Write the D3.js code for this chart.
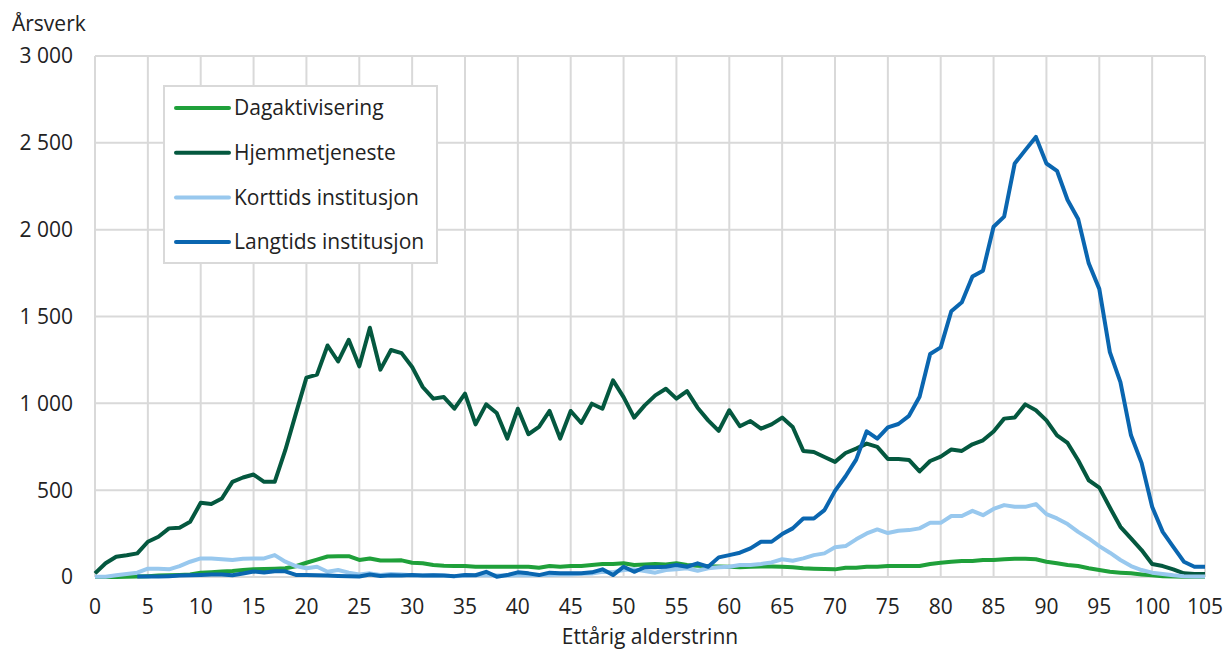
<!DOCTYPE html>
<html>
<head>
<meta charset="utf-8">
<script src="https://cdn.jsdelivr.net/npm/d3@7"></script>
<style>
  body { margin: 0; background: #fff; }
  text { font-family: "Open Sans", sans-serif; fill: #222; }
</style>
</head>
<body>
<div id="chart"></div>
<script>
// ages 0..105
const ages = d3.range(0, 106);
const seriesNames = ["Dagaktivisering", "Hjemmetjeneste", "Korttids institusjon", "Langtids institusjon"];
const seriesColors = ["#1fa03a", "#04583f", "#98c8ee", "#0a66b0"];

const dagaktivisering = [0,0,0,2,3,5,8,10,12,15,25,28,32,35,40,44,46,48,50,62,82,100,118,120,120,98,107,95,95,96,
  82,79,69,65,63,63,59,59,59,59,59,59,53,63,59,63,63,69,75,75,79,69,72,75,72,79,69,65,62,60,
  59,56,59,60,60,59,56,50,48,46,44,53,53,59,59,63,63,63,63,75,82,88,92,92,98,98,102,105,105,102,
  88,79,69,63,50,40,30,25,21,15,10,5,3,2,2,2];

const hjemmetjeneste = [21,79,117,125,136,203,232,280,284,318,427,420,452,548,573,590,548,548,730,941,1148,1165,1333,1241,1366,1213,1435,1194,1307,1289,
  1209,1094,1027,1036,969,1056,879,994,944,797,969,822,864,956,797,956,887,998,969,1132,1036,918,988,1046,1084,1027,1070,975,902,841,
  960,868,898,854,879,918,864,726,720,691,663,714,739,768,749,680,680,674,608,668,693,734,726,764,787,838,912,918,994,960,
  902,816,772,672,557,515,400,289,222,155,75,63,44,21,17,17];

const korttids = [2,2,10,17,25,48,48,44,63,88,107,107,102,98,105,107,107,126,88,63,50,59,30,40,25,15,21,11,17,14,
  10,8,10,8,5,8,10,12,8,8,10,10,12,12,15,15,18,20,30,28,40,45,35,25,40,45,50,36,50,56,
  59,69,69,75,84,102,94,107,126,136,171,178,217,251,274,253,266,270,280,312,312,351,351,381,356,392,414,404,404,420,
  362,337,305,260,222,178,140,98,63,40,25,17,10,5,3,3];

const langtids = [null,null,null,null,3,3,3,5,8,10,12,14,15,10,20,32,26,33,33,12,11,10,8,6,5,3,14,6,10,8,
  11,8,10,8,5,11,10,30,2,11,27,21,11,25,21,21,22,27,44,11,59,30,56,56,59,69,59,79,59,113,
  126,140,165,203,203,247,280,337,337,385,496,580,676,839,797,862,881,928,1038,1284,1322,1530,1582,1730,1764,2017,2075,2381,2458,2534,
  2381,2339,2171,2061,1806,1659,1295,1122,816,657,404,260,174,88,59,59];

const seriesValues = [dagaktivisering, hjemmetjeneste, korttids, langtids];
const xTicks = d3.range(0, 106, 5);
const yTicks = [0, 500, 1000, 1500, 2000, 2500, 3000];

const W = 1226, H = 651;
const margin = { top: 56, right: 21, bottom: 74, left: 95 };
const iw = W - margin.left - margin.right;
const ih = H - margin.top - margin.bottom;
const fs = "21px";

const svg = d3.select("#chart").append("svg")
  .attr("width", W)
  .attr("height", H);

const g = svg.append("g").attr("transform", `translate(${margin.left},${margin.top})`);

const x = d3.scaleLinear().domain([0, 105]).range([0, iw]);
const y = d3.scaleLinear().domain([0, 3000]).range([ih, 0]);

// grid
g.append("g").selectAll("line").data(xTicks).join("line")
  .attr("x1", d => x(d)).attr("x2", d => x(d))
  .attr("y1", 0).attr("y2", ih)
  .attr("stroke", "#d9d9d9").attr("stroke-width", 2);
g.append("g").selectAll("line").data(yTicks).join("line")
  .attr("x1", 0).attr("x2", iw)
  .attr("y1", d => y(d)).attr("y2", d => y(d))
  .attr("stroke", "#d9d9d9").attr("stroke-width", 2);

// tick labels
const fmt = d => d3.format(",")(d).replace(/,/g, "\u00a0");
g.append("g").selectAll("text").data(yTicks).join("text")
  .attr("x", -22).attr("y", d => y(d))
  .attr("dy", "0.35em")
  .attr("text-anchor", "end")
  .style("font-size", fs)
  .text(fmt);
g.append("g").selectAll("text").data(xTicks).join("text")
  .attr("x", d => x(d)).attr("y", ih + 30)
  .attr("dy", "0.35em")
  .attr("text-anchor", "middle")
  .style("font-size", fs)
  .text(d => d);

svg.append("text")
  .attr("x", 12).attr("y", 31)
  .style("font-size", fs)
  .text("Årsverk");

svg.append("text")
  .attr("x", margin.left + iw / 2).attr("y", 644)
  .attr("text-anchor", "middle")
  .style("font-size", fs)
  .text("Ettårig alderstrinn");

// lines
const line = d3.line()
  .defined(d => d != null)
  .x((d, i) => x(ages[i]))
  .y(d => y(d));

seriesValues.forEach((vals, i) => {
  g.append("path")
    .datum(vals)
    .attr("fill", "none")
    .attr("stroke", seriesColors[i])
    .attr("stroke-width", 4)
    .attr("stroke-linejoin", "round")
    .attr("d", line);
});

// legend
const lg = svg.append("g").attr("transform", "translate(164,86)");
lg.append("rect")
  .attr("width", 273).attr("height", 177)
  .attr("fill", "#fff")
  .attr("stroke", "#d9d9d9").attr("stroke-width", 2);
seriesNames.forEach((name, i) => {
  const ry = 22 + i * 44.7;
  lg.append("line")
    .attr("x1", 12).attr("x2", 65)
    .attr("y1", ry).attr("y2", ry)
    .attr("stroke", seriesColors[i])
    .attr("stroke-width", 4)
    .attr("stroke-linecap", "round");
  lg.append("text")
    .attr("x", 70).attr("y", ry)
    .attr("dy", "0.35em")
    .style("font-size", fs)
    .text(name);
});
</script>
</body>
</html>
